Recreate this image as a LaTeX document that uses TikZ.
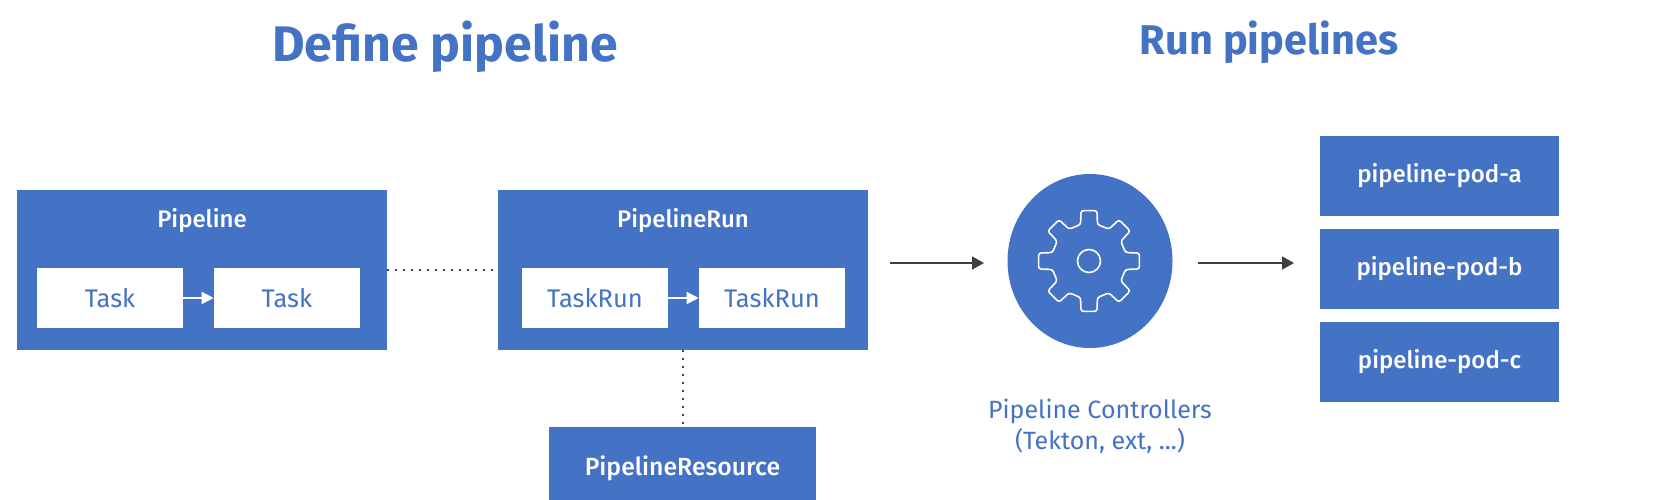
\documentclass[tikz,border=0pt]{standalone}
\usepackage{fontspec}
\setmainfont{Fira Sans}
\newfontfamily\labelfont{Fira Sans Medium}
\usepackage{tikz}
\usetikzlibrary{arrows.meta,positioning,shapes.geometric}
\definecolor{pipeblue}{HTML}{4472C4}
\definecolor{linegray}{HTML}{404040}

\begin{document}
\begin{tikzpicture}[
    x=1pt, y=-1pt,
    outerbox/.style={rectangle, fill=pipeblue, minimum width=370pt, minimum height=160pt, inner sep=0pt},
    innerbox/.style={rectangle, fill=white, text=pipeblue, minimum width=146pt, minimum height=60pt, inner sep=0pt, font=\fontsize{25.5}{28}\selectfont},
    podbox/.style={rectangle, fill=pipeblue, text=white, minimum width=239pt, minimum height=80pt, inner sep=0pt, font=\labelfont\fontsize{24}{28}\selectfont},
    boxlabel/.style={text=white, inner sep=0pt, font=\labelfont\fontsize{24}{28}\selectfont},
    title/.style={text=pipeblue, inner sep=0pt, font=\bfseries},
    arrow/.style={-{Triangle[length=12pt,width=13pt]}, line width=1.8pt, linegray},
    whitearrow/.style={-{Triangle[length=12pt,width=12pt]}, line width=1.6pt, white},
    dots/.style={linegray, line width=2pt, dash pattern=on 2pt off 6pt}
]
\useasboundingbox (0,0) rectangle (1668,499);

% Titles
\node[title, font=\bfseries\fontsize{50}{58}\selectfont] (define) at (445,47) {Define pipeline};
\node[title, font=\bfseries\fontsize{41.5}{48}\selectfont] (run) at (1269,42) {Run pipelines};

% Pipeline
\node[outerbox] (pipeline) at (202,270) {};
\node[boxlabel] (pipelinelabel) at (202,221) {Pipeline};
\node[innerbox] (task1) at (110,298) {\raisebox{-1.5pt}{Task}};
\node[innerbox, right=30.5pt of task1] (task2) {\raisebox{-1.5pt}{Task}};

% PipelineRun
\node[outerbox] (pipelinerun) at (683,270) {};
\node[boxlabel] (runlabel) at (683,221) {PipelineRun};
\node[innerbox] (taskrun1) at (595,298) {\raisebox{-1.5pt}{TaskRun}};
\node[innerbox, right=30.5pt of taskrun1] (taskrun2) {\raisebox{-1.5pt}{TaskRun}};

% Resource
\node[podbox, minimum width=267pt, minimum height=84pt, font=\labelfont\fontsize{24.8}{28}\selectfont] (resource) at (682.5,469) {\raisebox{6pt}{PipelineResource}};
\coordinate (runbottom) at (682.5,350);

% Controller
\node[ellipse, fill=pipeblue, minimum width=165pt, minimum height=174pt, inner sep=0pt] (controller) at (1090,261) {};
\node[text=pipeblue, align=center, inner sep=0pt, font=\fontsize{25}{30.5}\selectfont] (controllerlabel) at (1100,426.5) {Pipeline Controllers\\(Tekton, ext, ...)};

% Pods
\node[podbox] (poda) at (1439.5,176) {\raisebox{-1.5pt}{pipeline-pod-a}};
\node[podbox, below=12.5pt of poda] (podb) {\raisebox{-1.5pt}{pipeline-pod-b}};
\node[podbox, below=12.5pt of podb] (podc) {\raisebox{-1.5pt}{pipeline-pod-c}};

% Gear
\draw[white, line width=1.6pt, rounded corners=2.5pt, shift={(1089,261)}]
    (9:51) -- (-9:51) -- (-13:37.5) \foreach \a in {-45,-90,...,-315} {
        -- (\a+13:37.5) -- (\a+9:51) -- (\a-9:51) -- (\a-13:37.5)
    } -- (13:37.5) -- cycle;
\node[draw=white, circle, line width=1.6pt, minimum size=23pt, inner sep=0pt] (hub) at (1089,261) {};

% Arrows
\coordinate (in) at (890,263);
\coordinate (inend) at (984,263);
\coordinate (out) at (1198,263);
\coordinate (outend) at (1294,263);
\draw[whitearrow] (task1) -- (task2);
\draw[whitearrow] (taskrun1) -- (taskrun2);
\draw[arrow] (in) -- (inend);
\draw[arrow] (out) -- (outend);

% Dotted links
\draw[dots] (pipeline.east |- 0,270) -- (pipelinerun.west |- 0,270);
\draw[dots] (runbottom) -- (resource.north -| runbottom);

\end{tikzpicture}
\end{document}
